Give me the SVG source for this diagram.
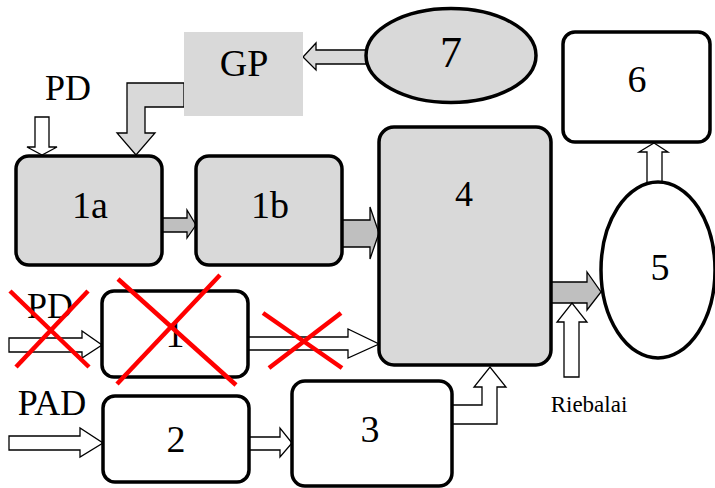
<svg xmlns="http://www.w3.org/2000/svg" width="715" height="488" viewBox="0 0 715 488">
<style>
.box{stroke:#000;stroke-width:3.5}
.g{fill:#d9d9d9}
.w{fill:#fff}
.t{font-family:"Liberation Serif","Times New Roman",serif;fill:#000;text-anchor:middle}
.big{font-size:38px}
.ar{stroke:#000;stroke-width:1.3;stroke-linejoin:miter}
.aw{fill:#fff}
.ag{fill:#bfbfbf}
.al{fill:#d9d9d9}
.x{stroke:#ff0000;stroke-width:4.5;fill:none}
</style>
<rect width="715" height="488" fill="#fff"/>
<g id="connectors">
<polygon class="ar al" points="184,83 127,83 127,133 117,133 136,155 155,133 145,133 145,107 184,107"/>
<polygon class="ar al" points="366,50 316,50 316,43 303,57 316,70 316,64 366,64"/>
<polygon class="ar aw" points="35,117 49,117 49,147 57,147 42,155 27,147 35,147"/>
<polygon class="ar ag" points="162,218 187,218 187,210 196,225 187,238 187,232 162,232"/>
<polygon class="ar ag" points="342,220 370,220 370,207 379,233 370,259 370,247 342,247"/>
<polygon class="ar ag" points="551,282 587,282 587,272 601,292 587,310 587,303 551,303"/>
<polygon class="ar aw" points="564,377 579,377 579,322 587,322 572,303 557,322 564,322"/>
<polygon class="ar aw" points="647,183 662,183 662,152 668,152 654,143 639,152 647,152"/>
<polygon class="ar aw" points="9,338 82,338 82,331 102,345 82,358 82,352 9,352"/>
<polygon class="ar aw" points="248,337 348,337 348,329 379,344 348,358 348,350 248,350"/>
<polygon class="ar aw" points="9,436 80,436 80,428 103,443 80,457 80,450 9,450"/>
<polygon class="ar aw" points="249,437 280,437 280,428 292,443 280,457 280,450 249,450"/>
<polygon class="ar aw" points="451,405 482,405 482,387 474,387 490,367 506,387 497,387 497,424 451,424"/>
</g>
<g id="node-GP">
<rect x="184" y="32" width="119" height="84" fill="#d9d9d9"/>
<text class="t big" x="244" y="76">GP</text>
</g>
<g id="node-7">
<ellipse class="box g" cx="451" cy="55.5" rx="85" ry="47"/>
<text class="t" x="451" y="67" font-size="44">7</text>
</g>
<g id="node-PD-top">
<text class="t" x="68" y="100" font-size="36">PD</text>
</g>
<g id="node-1a">
<rect class="box g" x="16" y="156" width="146" height="109" rx="13"/>
<text class="t big" x="90" y="218">1a</text>
</g>
<g id="node-1b">
<rect class="box g" x="196" y="156" width="146" height="109" rx="13"/>
<text class="t big" x="270" y="218">1b</text>
</g>
<g id="node-4">
<rect class="box g" x="379" y="127" width="172" height="238" rx="15"/>
<text class="t" x="464" y="206" font-size="36">4</text>
</g>
<g id="node-6">
<rect class="box w" x="563" y="32" width="147" height="110" rx="12"/>
<text class="t big" x="637" y="92">6</text>
</g>
<g id="node-5">
<ellipse class="box w" cx="658" cy="270" rx="57" ry="88"/>
<text class="t big" x="660" y="280">5</text>
</g>
<g id="node-PD-crossed">
<text class="t" x="50" y="318" font-size="36">PD</text>
</g>
<g id="node-1">
<rect class="box w" x="102" y="291" width="146" height="86" rx="12"/>
<text class="t big" x="175" y="347">1</text>
</g>
<g id="node-PAD">
<text class="t" x="52" y="415" font-size="36">PAD</text>
</g>
<g id="node-2">
<rect class="box w" x="103" y="396" width="146" height="86" rx="12"/>
<text class="t big" x="176" y="452">2</text>
</g>
<g id="node-3">
<rect class="box w" x="292" y="381" width="160" height="105" rx="13"/>
<text class="t big" x="370" y="442">3</text>
</g>
<g id="node-Riebalai">
<text class="t" x="589" y="412" font-size="23">Riebalai</text>
</g>
<g id="crosses">
<line class="x" x1="10" y1="291" x2="89" y2="367"/>
<line class="x" x1="88" y1="291" x2="16" y2="367"/>
<line class="x" x1="118" y1="279" x2="236" y2="385"/>
<line class="x" x1="220" y1="275" x2="117" y2="384"/>
<line class="x" x1="263" y1="313" x2="342" y2="368"/>
<line class="x" x1="341" y1="313" x2="269" y2="368"/>
</g>
</svg>
